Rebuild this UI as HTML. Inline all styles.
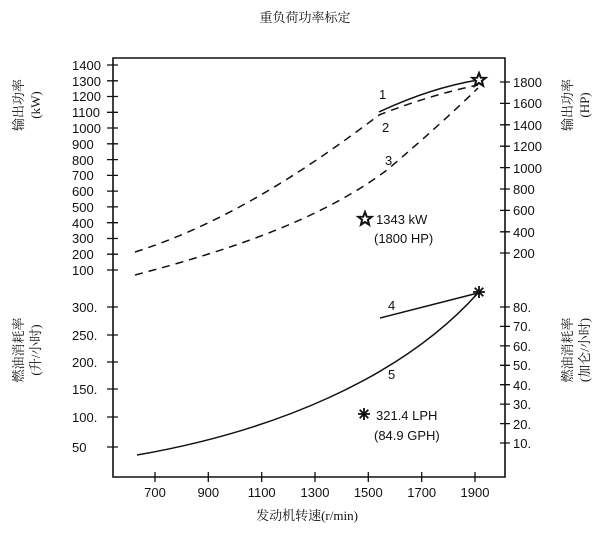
<!DOCTYPE html>
<html><head><meta charset="utf-8"><style>
body{margin:0;background:#fff}
svg text{fill:#111}
.s{font-family:"Liberation Sans",sans-serif;font-size:13px}
.c{font-family:"Liberation Serif","Noto Serif CJK SC",serif;font-size:13px}
</style></head><body>
<svg width="614" height="533" viewBox="0 0 614 533" xmlns="http://www.w3.org/2000/svg">
<defs>
<polygon id="st" points="0,-7 1.8,-2.3 6.7,-2.2 2.9,0.9 4.1,5.7 0,3 -4.1,5.7 -2.9,0.9 -6.7,-2.2 -1.8,-2.3" fill="#fff" stroke="#111" stroke-width="2"/>
<g id="ast" stroke="#111" stroke-width="1.8"><path d="M-6 0h12M0-6v12M-4.3-4.3l8.6 8.6M-4.3 4.3l8.6-8.6"/></g>
</defs>
<text class="c" x="305" y="22" text-anchor="middle">重负荷功率标定</text>
<g stroke="#111" stroke-width="1.6" fill="none">
<path d="M113 58 H505 V477 H113 Z"/>
</g>
<g stroke="#111" stroke-width="1.3">
<path d="M107 65h11M107 80.8h11M107 96.5h11M107 112.3h11M107 128h11M107 143.8h11M107 159.6h11M107 175.4h11M107 191.1h11M107 206.9h11M107 222.7h11M107 238.5h11M107 254.2h11M107 270h11"/>
<path d="M107 307h11M107 335h11M107 362h11M107 389h11M107 417h11M107 447h11"/>
<path d="M500 82h10M500 103.4h10M500 124.8h10M500 146.2h10M500 167.6h10M500 189h10M500 210.4h10M500 231.8h10M500 253h10"/>
<path d="M500 307h10M500 326.4h10M500 345.9h10M500 365.3h10M500 384.7h10M500 404.1h10M500 423.6h10M500 443h10"/>
<path d="M155 472v10M208.3 472v10M261.7 472v10M315 472v10M368.3 472v10M421.7 472v10M475 472v10"/>
</g>
<g class="s" text-anchor="start">
<text x="72" y="70">1400</text><text x="72" y="86">1300</text><text x="72" y="101">1200</text><text x="72" y="117">1100</text><text x="72" y="133">1000</text>
<text x="72" y="149">900</text><text x="72" y="165">800</text><text x="72" y="180">700</text><text x="72" y="196">600</text><text x="72" y="212">500</text>
<text x="72" y="228">400</text><text x="72" y="243">300</text><text x="72" y="259">200</text><text x="72" y="275">100</text>
<text x="72" y="312">300.</text><text x="72" y="340">250.</text><text x="72" y="367">200.</text><text x="72" y="394">150.</text><text x="72" y="422">100.</text><text x="72" y="452">50</text>
<text x="513" y="87">1800</text><text x="513" y="108">1600</text><text x="513" y="130">1400</text><text x="513" y="151">1200</text><text x="513" y="173">1000</text>
<text x="513" y="194">800</text><text x="513" y="215">600</text><text x="513" y="237">400</text><text x="513" y="258">200</text>
<text x="513" y="312">80.</text><text x="513" y="331">70.</text><text x="513" y="351">60.</text><text x="513" y="370">50.</text><text x="513" y="390">40.</text><text x="513" y="409">30.</text><text x="513" y="429">20.</text><text x="513" y="448">10.</text>
</g>
<g class="s" text-anchor="middle">
<text x="155" y="497">700</text><text x="208.3" y="497">900</text><text x="261.7" y="497">1100</text><text x="315" y="497">1300</text><text x="368.3" y="497">1500</text><text x="421.7" y="497">1700</text><text x="475" y="497">1900</text>
</g>
<text class="c" x="307" y="520" text-anchor="middle">发动机转速(r/min)</text>
<g class="c" text-anchor="middle">
<text transform="translate(23,105) rotate(-90)">输出功率</text>
<text transform="translate(40,105) rotate(-90)">(kW)</text>
<text transform="translate(23,350) rotate(-90)">燃油消耗率</text>
<text transform="translate(40,350) rotate(-90)">(升/小时)</text>
<text transform="translate(572,105) rotate(-90)">输出功率</text>
<text transform="translate(589,105) rotate(-90)">(HP)</text>
<text transform="translate(572,350) rotate(-90)">燃油消耗率</text>
<text transform="translate(589,350) rotate(-90)">(加仑/小时)</text>
</g>
<g fill="none" stroke="#111" stroke-width="1.5">
<path d="M379 112 Q430 88 478 80"/>
<path stroke-dasharray="8,6" d="M135 252 C220 225 300 175 379 115 Q430 95 478 85"/>
<path stroke-dasharray="8,6" d="M135 275 C230 250 320 220 387 170 Q440 125 478 88"/>
<path d="M380 318 L478 293"/>
<path d="M137 455 C270 432 400 380 478 293"/>
</g>
<g class="s">
<text x="379" y="99">1</text><text x="382" y="132">2</text><text x="385" y="165">3</text>
<text x="388" y="310">4</text><text x="388" y="379">5</text>
<text x="376" y="224">1343 kW</text><text x="374" y="243">(1800 HP)</text>
<text x="376" y="420">321.4 LPH</text><text x="374" y="440">(84.9 GPH)</text>
</g>
<use href="#st" x="479" y="80"/>
<use href="#st" x="365" y="219"/>
<use href="#ast" x="479" y="292"/>
<use href="#ast" x="364" y="414"/>
</svg>
</body></html>
